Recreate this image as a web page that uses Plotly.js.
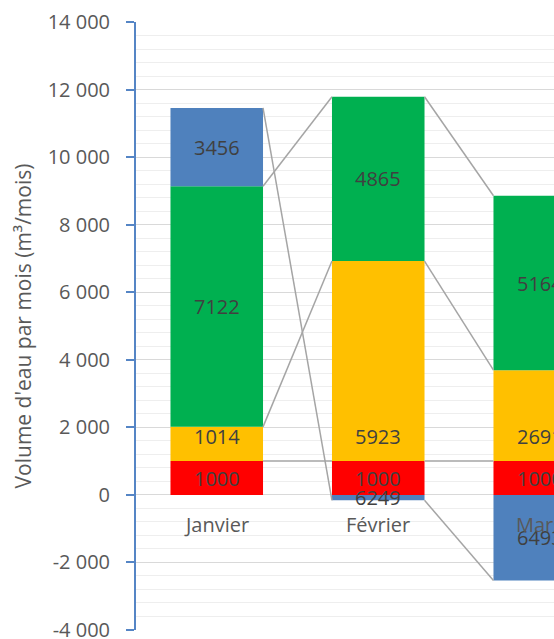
<!DOCTYPE html>
<html>
<head>
<meta charset="utf-8">
<script src="https://cdn.plot.ly/plotly-3.0.1.min.js"></script>
<style>
  html, body { margin: 0; padding: 0; background: #ffffff; overflow: hidden; }
  #chart { width: 554px; height: 639px; }
</style>
</head>
<body>
<div id="chart"></div>
<script>
// ---- data ----
const categories = ['Janvier', 'Février', 'Mars'];
const rouge = [1000, 1000, 1000];
const jaune = [1014, 5923, 2691];
const vert = [7122, 4865, 5164];
const bleu = [2320, -160, -2537];
const labelsRouge = ['1000', '1000', '1000'];
const labelsJaune = ['1014', '5923', '2691'];
const labelsVert = ['7122', '4865', '5164'];
const labelsBleu = ['3456', '6249', '6493'];
const yTickVals = [-4000, -2000, 0, 2000, 4000, 6000, 8000, 10000, 12000, 14000];
const yTickText = ['-4 000', '-2 000', '0', '2 000', '4 000', '6 000', '8 000', '10 000', '12 000', '14 000'];

// ---- styling ----
const FONT = 'Open Sans, sans-serif';
const FS = 20;
const barWidth = 0.573;
const seriesList = [
  { vals: rouge, labels: labelsRouge, color: '#ff0000', labelMode: 'mid' },
  { vals: jaune, labels: labelsJaune, color: '#ffc000', labelMode: 'base' },
  { vals: vert, labels: labelsVert, color: '#00b050', labelMode: 'mid' },
  { vals: bleu, labels: labelsBleu, color: '#4f81bd', labelMode: 'mid' }
];
const xIdx = categories.map((c, i) => i);

const traces = [];
const annotations = [];
const posSum = categories.map(() => 0);
const negSum = categories.map(() => 0);
const ends = [];

seriesList.forEach(s => {
  traces.push({
    type: 'bar', x: xIdx, y: s.vals, width: barWidth,
    marker: { color: s.color, line: { width: 0 } },
    hoverinfo: 'skip', showlegend: false
  });
  const end = [];
  s.vals.forEach((v, i) => {
    let base;
    if (v >= 0) { base = posSum[i]; posSum[i] += v; end.push(posSum[i]); }
    else { base = negSum[i]; negSum[i] += v; end.push(negSum[i]); }
    const ann = {
      x: i, xref: 'x', yref: 'y', text: s.labels[i], showarrow: false,
      font: { family: FONT, size: FS, color: '#404040' }, yanchor: 'middle'
    };
    if (s.labelMode === 'base') { ann.y = base; ann.yshift = 25; }
    else { ann.y = base + v / 2; }
    annotations.push(ann);
  });
  ends.push(end);
});

// series lines
const lx = [], ly = [];
ends.forEach(end => {
  for (let i = 0; i < categories.length - 1; i++) {
    lx.push(i + barWidth / 2, i + 1 - barWidth / 2, null);
    ly.push(end[i], end[i + 1], null);
  }
});
traces.push({
  type: 'scatter', mode: 'lines', x: lx, y: ly,
  line: { color: '#a5a5a5', width: 1.5 }, hoverinfo: 'skip', showlegend: false
});

// category labels
categories.forEach((c, i) => {
  annotations.push({
    x: i, y: 0, xref: 'x', yref: 'y', yshift: -30, yanchor: 'middle',
    text: c, showarrow: false, font: { family: FONT, size: FS, color: '#595959' }
  });
});

const layout = {
  width: 554, height: 639,
  margin: { l: 136, r: 0, t: 22, b: 9 },
  paper_bgcolor: '#ffffff', plot_bgcolor: '#ffffff',
  barmode: 'relative',
  showlegend: false,
  font: { family: FONT, size: FS, color: '#595959' },
  xaxis: {
    range: [-0.5, -0.5 + 418 / 161.5],
    showgrid: false, zeroline: false, showticklabels: false, ticks: '', showline: false
  },
  yaxis: {
    range: [-4000, 14000],
    tickvals: yTickVals, ticktext: yTickText,
    showgrid: true, gridcolor: '#d9d9d9', gridwidth: 1,
    zeroline: false,
    showline: true, linecolor: '#5585c5', linewidth: 2,
    ticks: 'outside', ticklen: 8, tickwidth: 2, tickcolor: '#5585c5',
    ticklabelstandoff: 12,
    ticklabeloverflow: 'allow',
    tickfont: { family: FONT, size: FS, color: '#595959' },
    minor: { dtick: 400, tick0: 0, showgrid: true, gridcolor: '#eeeeee', gridwidth: 1, ticks: '' },
    title: { text: 'Volume d\'eau par mois (m³/mois)', font: { family: FONT, size: 21, color: '#595959' }, standoff: 10 }
  },
  annotations: annotations,
  hovermode: false
};

Plotly.newPlot('chart', traces, layout, { displayModeBar: false, staticPlot: true });
</script>
</body>
</html>
